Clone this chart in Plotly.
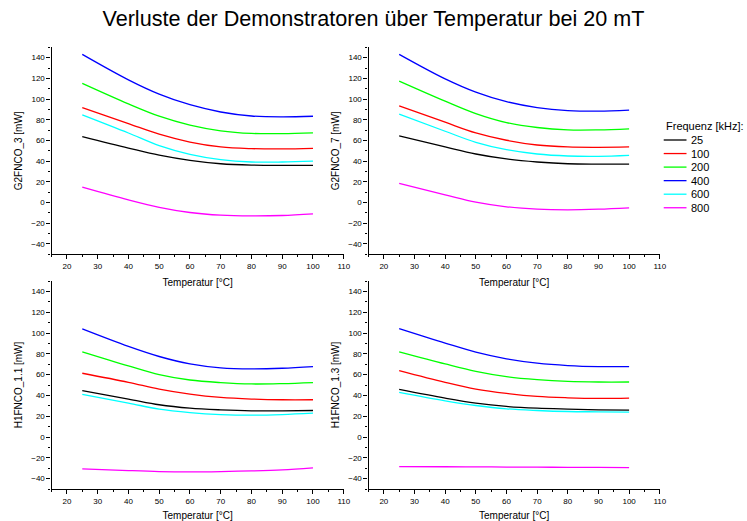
import plotly.graph_objects as go

temps = [25, 40, 50, 60, 70, 80, 90, 100]
freqs = ["25", "100", "200", "400", "600", "800"]
colors = ["#000000", "#ff0000", "#00ff00", "#0000ff", "#00ffff", "#ff00ff"]

# G2FNCO_3
g2_3 = {
    "25":  [63.7, 52.7, 45.8, 40.8, 37.5, 36.2, 35.9, 35.9],
    "100": [91.8, 76.3, 66.0, 58.4, 53.7, 52.1, 51.8, 52.4],
    "200": [115.1, 95.3, 83.4, 74.8, 69.3, 66.8, 66.6, 67.3],
    "400": [143.2, 118.6, 104.8, 94.5, 87.5, 83.6, 82.8, 83.4],
    "600": [84.7, 67.2, 55.0, 46.6, 41.5, 39.2, 39.2, 40.1],
    "800": [14.9, 2.6, -4.6, -9.6, -12.2, -12.9, -12.5, -10.9],
}
# G2FNCO_7
g2_7 = {
    "25":  [64.4, 53.7, 46.9, 42.1, 39.2, 37.5, 37.2, 37.2],
    "100": [93.5, 77.6, 67.3, 60.2, 55.6, 53.7, 53.4, 53.7],
    "200": [117.4, 98.0, 86.0, 77.3, 72.5, 70.2, 70.2, 71.2],
    "400": [143.2, 119.5, 106.7, 97.5, 91.8, 88.9, 88.3, 89.3],
    "600": [85.4, 68.9, 58.2, 51.1, 46.9, 45.0, 44.7, 45.6],
    "800": [18.5, 7.5, 0.4, -4.1, -6.4, -7.0, -6.4, -5.1],
}
# H1FNCO_1.1
h1_1 = {
    "25":  [44.5, 36.5, 31.0, 27.7, 26.1, 25.2, 25.2, 25.5],
    "100": [61.3, 52.6, 46.1, 41.3, 38.1, 36.5, 35.8, 35.8],
    "200": [81.9, 68.4, 60.0, 54.8, 52.3, 51.0, 51.3, 52.3],
    "400": [103.9, 87.1, 77.4, 70.3, 66.5, 65.5, 66.1, 67.7],
    "600": [41.0, 32.6, 26.8, 23.5, 21.6, 21.0, 21.6, 22.9],
    "800": [-30.6, -32.3, -33.2, -33.5, -33.2, -32.6, -31.6, -29.7],
}
# H1FNCO_1.3
h1_3 = {
    "25":  [45.8, 37.4, 32.6, 29.4, 27.7, 26.8, 26.1, 25.8],
    "100": [63.9, 52.6, 46.1, 41.9, 39.0, 37.7, 37.1, 37.4],
    "200": [81.9, 70.3, 63.2, 58.1, 55.2, 53.5, 52.9, 52.9],
    "400": [104.2, 90.3, 81.6, 75.2, 71.0, 68.7, 67.7, 67.7],
    "600": [42.9, 34.8, 30.3, 27.1, 25.5, 24.5, 24.2, 23.9],
    "800": [-28.4, -28.6, -28.7, -28.9, -29.0, -29.2, -29.3, -29.4],
}

panels = [
    (g2_3, "G2FNCO_3 [mW]"),
    (g2_7, "G2FNCO_7 [mW]"),
    (h1_1, "H1FNCO_1.1 [mW]"),
    (h1_3, "H1FNCO_1.3 [mW]"),
]

W, H = 747, 521
xdoms = [[52 / W, 347 / W], [372 / W, 666 / W]]
ydoms = [[1 - 254.3 / H, 1 - 47.3 / H], [1 - 489 / H, 1 - 281 / H]]

fig = go.Figure()
font = "Liberation Sans, Arial, sans-serif"

for i, (data, ytitle) in enumerate(panels):
    n = i + 1
    sfx = "" if n == 1 else str(n)
    for f, c in zip(freqs, colors):
        fig.add_trace(go.Scatter(
            x=temps, y=data[f], mode="lines", name=f,
            line=dict(color=c, width=1.3, shape="spline", smoothing=1.0),
            showlegend=False, legendgroup=f,
            xaxis="x" + sfx, yaxis="y" + sfx,
        ))
    col = i % 2
    row = i // 2
    axcommon = dict(
        showline=True, linecolor="#000000", linewidth=1.2,
        ticks="outside", ticklen=4, tickwidth=1, tickcolor="#000000",
        showgrid=False, zeroline=False, mirror=False,
        tickfont=dict(family=font, size=8, color="#000000"),
    )
    fig.update_layout(**{
        "xaxis" + sfx: dict(
            axcommon, domain=xdoms[col], range=[15, 110], dtick=10, tick0=0,
            minor=dict(ticks="outside", ticklen=2, tickwidth=1, tickcolor="#000000", dtick=5),
            anchor="y" + sfx,
            title=dict(text="Temperatur [°C]", font=dict(family=font, size=10, color="#000000"), standoff=8),
        ),
        "yaxis" + sfx: dict(
            axcommon, domain=ydoms[row], range=[-50, 150], dtick=20, tick0=0,
            minor=dict(ticks="outside", ticklen=2, tickwidth=1, tickcolor="#000000", dtick=10),
            anchor="x" + sfx,
            title=dict(text=ytitle, font=dict(family=font, size=10, color="#000000"), standoff=6),
        ),
    })

# Legend (drawn manually to match the compact spacing of the reference)
legend_title = "Frequenz [kHz]:"
lx0, lx1, ltx = 670, 693, 696
ly_title = 126.5
ly0, ldy = 140, 13.55
fig.add_annotation(x=lx0 / W, y=1 - ly_title / H, xref="paper", yref="paper",
                   text=legend_title, showarrow=False, xanchor="left", yanchor="middle",
                   font=dict(family=font, size=11, color="#000000"))
for k, (f, c) in enumerate(zip(freqs, colors)):
    yy = 1 - (ly0 + k * ldy) / H
    fig.add_shape(type="line", xref="paper", yref="paper",
                  x0=lx0 / W, x1=lx1 / W, y0=yy, y1=yy,
                  line=dict(color=c, width=1.3))
    fig.add_annotation(x=ltx / W, y=yy, xref="paper", yref="paper",
                       text=f, showarrow=False, xanchor="left", yanchor="middle",
                       font=dict(family=font, size=11, color="#000000"))

fig.update_layout(
    width=W, height=H,
    margin=dict(l=0, r=0, t=0, b=0),
    paper_bgcolor="#ffffff", plot_bgcolor="#ffffff",
    title=dict(text="Verluste der Demonstratoren über Temperatur bei 20 mT",
               x=0.5, xanchor="center", y=1 - 18 / H, yanchor="middle",
               font=dict(family=font, size=21.6, color="#000000")),
    showlegend=False,
)

fig.write_html("out.html")
